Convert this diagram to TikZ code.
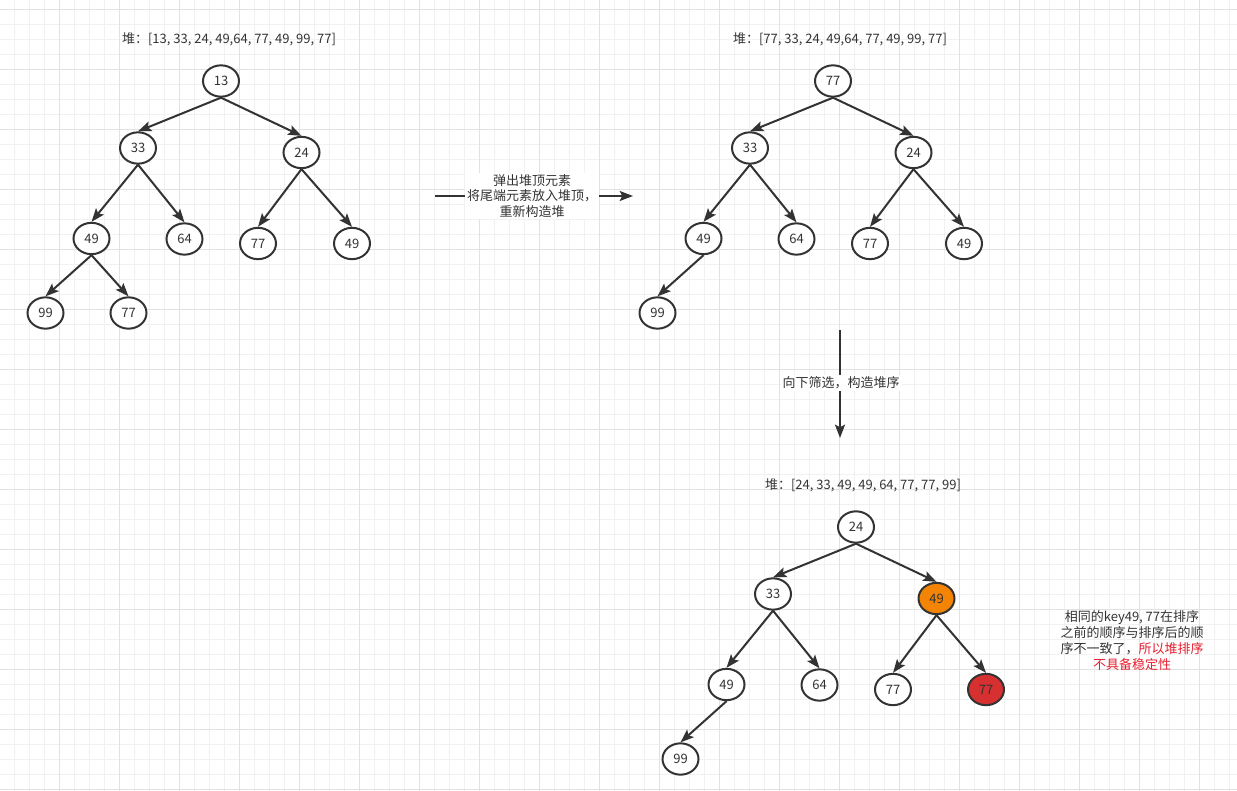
\documentclass[tikz,border=0pt]{standalone}
\usepackage{fontspec}
\setmainfont{Noto Sans CJK SC}
\usetikzlibrary{arrows.meta}
\usetikzlibrary{shapes.geometric}
\tikzset{>={Stealth[length=10pt,width=7.5pt,inset=2pt]}}
\definecolor{inkgray}{RGB}{51,51,51}
\definecolor{gridminor}{RGB}{241,241,241}
\definecolor{gridmajor}{RGB}{226,226,226}
\definecolor{heaporange}{RGB}{243,132,5}
\definecolor{heapred}{RGB}{214,48,48}
\definecolor{notered}{RGB}{232,32,48}
\tikzset{
  keynode/.style={ellipse,draw=inkgray,line width=1.5pt,fill=white,
    minimum width=27pt,minimum height=23.5pt,inner sep=0pt,
    text=inkgray,font=\fontsize{9.75pt}{11pt}\selectfont},
  heapedge/.style={->,draw=inkgray,line width=1.5pt},
  heaplabel/.style={text=inkgray,font=\fontsize{9.75pt}{11pt}\selectfont},
  steplabel/.style={fill=white,text=inkgray,align=center,inner sep=1.5pt,
    font=\fontsize{9.75pt}{11.6pt}\selectfont}
}
\begin{document}
\begin{tikzpicture}[x=0.75pt,y=-0.75pt]
  \useasboundingbox (0,0) rectangle (1237,791);
  \fill[white] (0,0) rectangle (1237,791);
  % grid
  \foreach \i in {1,...,82} {\draw[gridminor,line width=0.75pt] ({\i*15-0.7},0) -- ({\i*15-0.7},791);}
  \foreach \i in {0,...,52} {\draw[gridminor,line width=0.75pt] (0,{\i*15+9.3}) -- (1237,{\i*15+9.3});}
  \foreach \i in {1,...,20} {\draw[gridmajor,line width=0.75pt] ({\i*60-0.7},0) -- ({\i*60-0.7},791);}
  \foreach \i in {0,...,13} {\draw[gridmajor,line width=0.75pt] (0,{\i*60+9.3}) -- (1237,{\i*60+9.3});}

  % first heap
  \node[heaplabel] (headA) at (229,39) {堆：[13, 33, 24, 49,64, 77, 49, 99, 77]};
  \node[keynode] (aroot) at (221,81) {13};
  \node[keynode] (al) at (138,148) {33};
  \node[keynode] (ar) at (301.5,152.5) {24};
  \node[keynode] (all) at (91.5,238.5) {49};
  \node[keynode] (alr) at (184.5,239) {64};
  \node[keynode] (arl) at (258,243.5) {77};
  \node[keynode] (arr) at (352,243.5) {49};
  \node[keynode] (alll) at (45.5,313) {99};
  \node[keynode] (allr) at (128.5,313) {77};
  \draw[heapedge] (aroot.south) -- (al.north);
  \draw[heapedge] (aroot.south) -- (ar.north);
  \draw[heapedge] (al.south) -- (all.north);
  \draw[heapedge] (al.south) -- (alr.north);
  \draw[heapedge] (ar.south) -- (arl.north);
  \draw[heapedge] (ar.south) -- (arr.north);
  \draw[heapedge] (all.south) -- (alll.north);
  \draw[heapedge] (all.south) -- (allr.north);

  % pop the top
  \coordinate (popfrom) at (435,196);
  \coordinate (popto) at (633,196);
  \draw[heapedge] (popfrom) -- (popto);
  \node[steplabel] (poptext) at (532,196) {弹出堆顶元素\\将尾端元素放入堆顶，\\重新构造堆};

  % second heap
  \node[heaplabel] (headB) at (840,39) {堆：[77, 33, 24, 49,64, 77, 49, 99, 77]};
  \node[keynode] (broot) at (833,81) {77};
  \node[keynode] (bl) at (750,148) {33};
  \node[keynode] (br) at (913.5,152.5) {24};
  \node[keynode] (bll) at (703.5,238.5) {49};
  \node[keynode] (blr) at (796.5,239) {64};
  \node[keynode] (brl) at (870,243.5) {77};
  \node[keynode] (brr) at (964,243.5) {49};
  \node[keynode] (blll) at (657.5,313) {99};
  \draw[heapedge] (broot.south) -- (bl.north);
  \draw[heapedge] (broot.south) -- (br.north);
  \draw[heapedge] (bl.south) -- (bll.north);
  \draw[heapedge] (bl.south) -- (blr.north);
  \draw[heapedge] (br.south) -- (brl.north);
  \draw[heapedge] (br.south) -- (brr.north);
  \draw[heapedge] (bll.south) -- (blll.north);

  % sift down
  \coordinate (siftfrom) at (840,330);
  \coordinate (siftto) at (840,438);
  \draw[heapedge] (siftfrom) -- (siftto);
  \node[steplabel] (sifttext) at (841,383) {向下筛选，构造堆序};

  % third heap
  \node[heaplabel] (headC) at (863,485) {堆：[24, 33, 49, 49, 64, 77, 77, 99]};
  \node[keynode] (croot) at (856,527) {24};
  \node[keynode] (cl) at (773,594) {33};
  \node[keynode,fill=heaporange] (cr) at (936.5,598.5) {49};
  \node[keynode] (cll) at (726.5,684.5) {49};
  \node[keynode] (clr) at (819.5,685) {64};
  \node[keynode] (crl) at (893,689.5) {77};
  \node[keynode,fill=heapred] (crr) at (986,689.5) {77};
  \node[keynode] (clll) at (680.5,759) {99};
  \draw[heapedge] (croot.south) -- (cl.north);
  \draw[heapedge] (croot.south) -- (cr.north);
  \draw[heapedge] (cl.south) -- (cll.north);
  \draw[heapedge] (cl.south) -- (clr.north);
  \draw[heapedge] (cr.south) -- (crl.north);
  \draw[heapedge] (cr.south) -- (crr.north);
  \draw[heapedge] (cll.south) -- (clll.north);

  \node[heaplabel,align=center,font=\fontsize{9.75pt}{12pt}\selectfont] (note) at (1132,641)
    {相同的key49, 77在排序\\之前的顺序与排序后的顺\\序不一致了，\textcolor{notered}{所以堆排序}\\\textcolor{notered}{不具备稳定性}};
\end{tikzpicture}
\end{document}
